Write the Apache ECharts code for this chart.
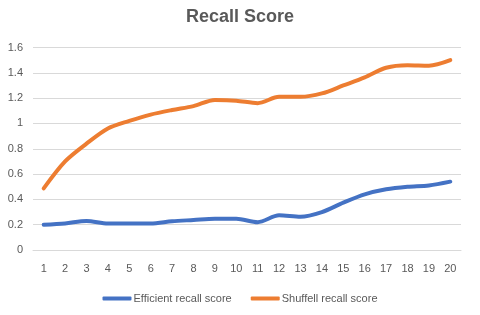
<!DOCTYPE html>
<html>
<head>
<meta charset="utf-8">
<script src="https://cdn.jsdelivr.net/npm/echarts@6/dist/echarts.min.js"></script>
<style>html,body{margin:0;padding:0;background:#fff;}#c{width:480px;height:315px;}</style>
</head>
<body>
<div id="c"></div>
<script>
const categories = ['1','2','3','4','5','6','7','8','9','10','11','12','13','14','15','16','17','18','19','20'];
const efficient = [0.20,0.21,0.23,0.21,0.21,0.21,0.227,0.237,0.247,0.247,0.22,0.274,0.263,0.30,0.374,0.44,0.48,0.50,0.51,0.54];
const shuffell = [0.487,0.70,0.84,0.96,1.02,1.07,1.106,1.137,1.185,1.18,1.16,1.21,1.21,1.237,1.30,1.364,1.44,1.46,1.456,1.50];
const seriesNames = ['Efficient recall score','Shuffell recall score'];

const chart = echarts.init(document.getElementById('c'), null, {renderer:'canvas'});
const textColor = '#595959';
const fontFam = 'Liberation Sans, Arial, sans-serif';
chart.setOption({
  animation: false,
  backgroundColor: '#fff',
  title: {
    text: 'Recall Score', left: 'center', top: 3,
    textStyle: {color: textColor, fontSize: 18, fontWeight: 'bold', fontFamily: fontFam}
  },
  legend: {
    bottom: 6, left: 'center', icon: 'roundRect', itemWidth: 29, itemHeight: 4, itemGap: 19,
    textStyle: {color: textColor, fontSize: 11, fontFamily: fontFam, padding: [0,0,0,-3]},
    data: seriesNames
  },
  grid: {left: 33, right: 19, top: 47.5, bottom: 65, containLabel: false},
  xAxis: {
    type: 'category', data: categories, boundaryGap: true,
    axisLine: {lineStyle: {color: '#d9d9d9'}}, axisTick: {show: false},
    axisLabel: {color: textColor, fontSize: 11, fontFamily: fontFam, margin: 13}
  },
  yAxis: {
    type: 'value', min: 0, max: 1.6, interval: 0.2,
    axisLine: {show: false}, axisTick: {show: false},
    splitLine: {lineStyle: {color: '#d9d9d9'}},
    axisLabel: {color: textColor, fontSize: 11, fontFamily: fontFam, margin: 10}
  },
  series: [
    {name: seriesNames[0], type: 'line', data: efficient, smooth: 0.3, symbol: 'none',
     lineStyle: {width: 4, color: '#4472C4', cap: 'round'}, itemStyle: {color: '#4472C4'}},
    {name: seriesNames[1], type: 'line', data: shuffell, smooth: 0.3, symbol: 'none',
     lineStyle: {width: 4, color: '#ED7D31', cap: 'round'}, itemStyle: {color: '#ED7D31'}}
  ]
});
</script>
</body>
</html>
